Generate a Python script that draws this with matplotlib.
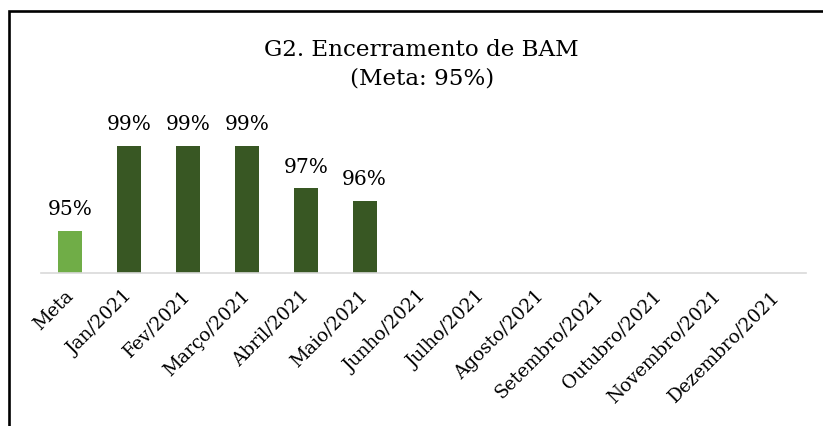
import matplotlib
matplotlib.use("Agg")
import matplotlib.pyplot as plt
from matplotlib.lines import Line2D

categories = ["Meta", "Jan/2021", "Fev/2021", "Março/2021", "Abril/2021", "Maio/2021",
              "Junho/2021", "Julho/2021", "Agosto/2021", "Setembro/2021", "Outubro/2021",
              "Novembro/2021", "Dezembro/2021"]
values = [95.0, 99.0, 99.0, 99.0, 97.0, 96.4]
labels = ["95%", "99%", "99%", "99%", "97%", "96%"]
title_line1 = "G2. Encerramento de BAM"
title_line2 = "(Meta: 95%)"

FONT = "DejaVu Serif"
plt.rcParams["font.family"] = [FONT]

W, H = 823, 427
fig = plt.figure(figsize=(W / 100, H / 100), dpi=100)

ax_left, ax_right = 41 / W, 806 / W
ax_bottom = 1 - 274 / H
ax_height = 8 * 21.2 / H
ax = fig.add_axes([ax_left, ax_bottom, ax_right - ax_left, ax_height])

x = list(range(len(categories)))
colors = ["#70AD47"] + ["#385723"] * (len(values) - 1)
bars = ax.bar(x[:len(values)], values, width=0.41, color=colors, bottom=0)
ax.set_ylim(93, 101)
ax.set_xlim(-0.5, len(categories) - 0.5)

for xi, v, lab in zip(x, values, labels):
    ax.annotate(lab, (xi, v), xytext=(0, 12), textcoords="offset points",
                ha="center", va="baseline", fontsize=14.5, color="#000000")

for s in ["top", "right", "left"]:
    ax.spines[s].set_visible(False)
ax.spines["bottom"].set_color("#D9D9D9")
ax.spines["bottom"].set_linewidth(1.2)
ax.set_yticks([])
ax.set_xticks(x)
ax.set_xticklabels(categories, rotation=45, ha="right", rotation_mode="anchor",
                   fontsize=13.3, va="center")
ax.tick_params(axis="x", length=0, pad=14)

cx = 421.7 / W
fig.text(cx, 1 - 56 / H, title_line1, ha="center", va="baseline", fontsize=16.6)
fig.text(cx, 1 - 85 / H, title_line2, ha="center", va="baseline", fontsize=16.6)

# frame (left and top visible)
fig.add_artist(Line2D([8.7 / W, 8.7 / W, 1.0], [0.0, 1 - 12.3 / H, 1 - 12.3 / H],
                      transform=fig.transFigure, color="black", linewidth=1.9,
                      solid_joinstyle="miter"))

fig.savefig("out.png", dpi=100)
